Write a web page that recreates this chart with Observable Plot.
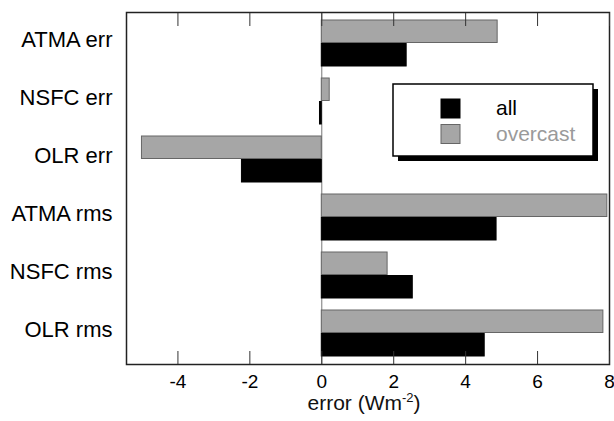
<!DOCTYPE html>
<html>
<head>
<meta charset="utf-8">
<script src="https://cdn.jsdelivr.net/npm/d3@7"></script>
<script src="https://cdn.jsdelivr.net/npm/@observablehq/plot@0.6"></script>
<style>
  html, body { margin: 0; padding: 0; background: #fff; }
  #chart svg { display: block; }
</style>
</head>
<body>
<div id="chart"></div>
<script>
const categories = ["ATMA err", "NSFC err", "OLR err", "ATMA rms", "NSFC rms", "OLR rms"];
const allValues = [2.36, -0.05, -2.22, 4.86, 2.53, 4.53];
const overcastValues = [4.89, 0.22, -5.0, 7.94, 1.83, 7.83];
const seriesNames = ["all", "overcast"];
const xTicks = [-4, -2, 0, 2, 4, 6, 8];
const xLabel = "error (Wm";
const xLabelSup = "-2";

const allData = categories.map((c, i) => ({cat: c, value: allValues[i]}));
const overData = categories.map((c, i) => ({cat: c, value: overcastValues[i]}));

const font = "'Liberation Sans', Arial, Helvetica, sans-serif";
const W = 614, H = 421;
const mL = 126, mR = 5, mT = 12, mB = 57;

const chart = Plot.plot({
  width: W,
  height: H,
  marginLeft: mL,
  marginRight: mR,
  marginTop: mT,
  marginBottom: mB,
  style: {fontFamily: font, background: "#fff", color: "#000"},
  x: {domain: [-5.43, 8], axis: null},
  y: {domain: categories, paddingInner: 0.2, paddingOuter: 0.093, axis: null},
  marks: [
    Plot.ruleX([0], {stroke: "#777", strokeWidth: 1}),
    Plot.barX(overData, {x: "value", y: "cat", fill: "#a6a6a6", stroke: "#666", strokeWidth: 1, insetBottom: 23.5}),
    Plot.barX(allData, {x: "value", y: "cat", fill: "#000", stroke: "#000", strokeWidth: 1, insetTop: 23.5}),
    Plot.frame({stroke: "#222", strokeWidth: 1.5}),
    Plot.axisY({anchor: "left", tickSize: 0, tickPadding: 14, fontSize: 22, dy: -4, label: null}),
    Plot.axisX(xTicks, {anchor: "bottom", tickSize: 0, tickPadding: 10, fontSize: 19, label: null, tickFormat: d => String(d).replace("\u2212", "-")}),
    Plot.axisX(xTicks, {anchor: "bottom", tickSize: 13, dy: -13, fill: "none", stroke: "#333", label: null}),
    Plot.axisX(xTicks, {anchor: "top", tickSize: 13, dy: 13, fill: "none", stroke: "#333", label: null})
  ]
});

document.getElementById("chart").appendChild(chart);

const svg = d3.select(chart);

// x-axis label with superscript
const lab = svg.append("text")
  .attr("x", 364).attr("y", 410)
  .attr("text-anchor", "middle")
  .attr("font-family", font)
  .attr("font-size", 21)
  .attr("fill", "#111");
lab.append("tspan").text(xLabel);
lab.append("tspan").attr("font-size", 13).attr("dy", -8).text(xLabelSup);
lab.append("tspan").attr("dy", 8).text(")");

// legend box with drop shadow
const lg = svg.append("g").attr("text-anchor", "start");
lg.append("rect").attr("x", 398).attr("y", 89).attr("width", 200).attr("height", 72).attr("fill", "#000");
lg.append("rect").attr("x", 393).attr("y", 84).attr("width", 200).attr("height", 72)
  .attr("fill", "#fff").attr("stroke", "#000").attr("stroke-width", 1.5);
const swatchFill = ["#000", "#a6a6a6"];
const swatchStroke = ["#000", "#666"];
const textFill = ["#000", "#9a9a9a"];
seriesNames.forEach((s, i) => {
  lg.append("rect").attr("x", 441).attr("y", 99 + i * 25.5).attr("width", 19).attr("height", 19)
    .attr("fill", swatchFill[i]).attr("stroke", swatchStroke[i]).attr("stroke-width", 1);
  lg.append("text").attr("x", 496).attr("y", 115 + i * 26).attr("text-anchor", "start")
    .attr("font-family", font).attr("font-size", 21).attr("fill", textFill[i]).text(s);
});
</script>
</body>
</html>
